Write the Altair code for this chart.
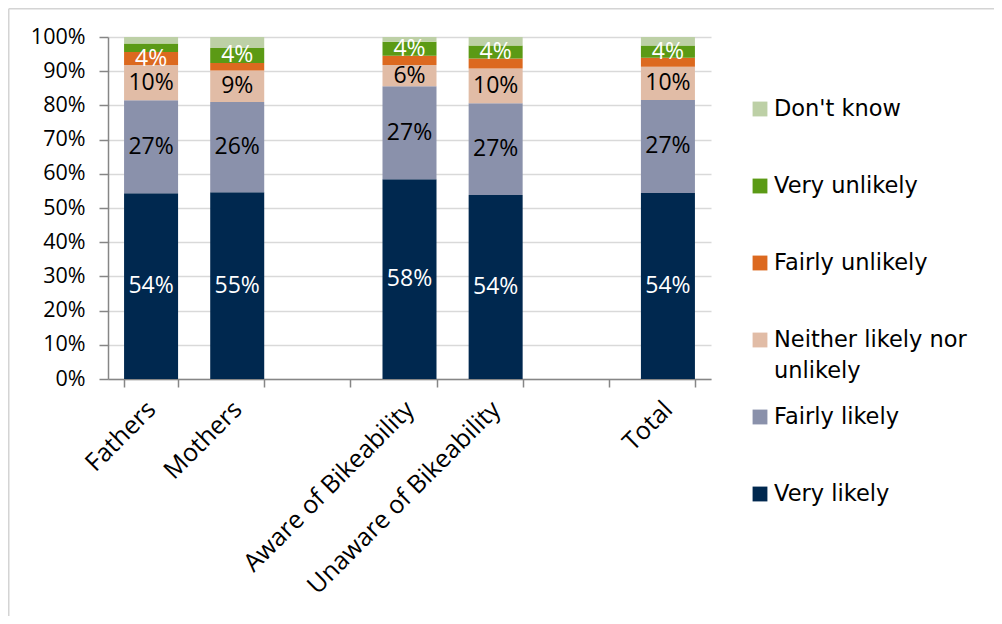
import altair as alt
import pandas as pd

# ---- data ----
groups = ["Fathers", "Mothers", " ", "Aware of Bikeability", "Unaware of Bikeability", "  ", "Total"]
cats = ["Very likely", "Fairly likely", "Neither likely nor unlikely",
        "Fairly unlikely", "Very unlikely", "Don't know"]
colors = ["#00284f", "#8a91ab", "#e1bca6", "#dc691f", "#5b9a15", "#bdd0a6"]

fathers = [54.3, 27.2, 10.3, 3.8, 2.5, 1.9]
mothers = [54.6, 26.4, 9.2, 2.2, 4.4, 3.2]
aware = [58.4, 27.2, 6.2, 2.7, 4.1, 1.4]
unaware = [53.8, 26.8, 10.2, 2.9, 3.8, 2.5]
total = [54.4, 27.2, 9.7, 2.6, 3.6, 2.5]

series = {
    "Fathers": fathers,
    "Mothers": mothers,
    "Aware of Bikeability": aware,
    "Unaware of Bikeability": unaware,
    "Total": total,
}

legend_order = ["Don't know", "Very unlikely", "Fairly unlikely",
                "Neither likely nor unlikely", "Fairly likely", "Very likely"]
legend_line1 = ["Don't know", "Very unlikely", "Fairly unlikely",
                "Neither likely nor", "Fairly likely", "Very likely"]
legend_line2 = ["", "", "", "unlikely", "", ""]

y_ticks = [0, 10, 20, 30, 40, 50, 60, 70, 80, 90, 100]

rows = []
for g, vals in series.items():
    for i, (c, v) in enumerate(zip(cats, vals)):
        rows.append({"group": g, "cat": c, "value": v, "order": i})
df = pd.DataFrame(rows)

leg = pd.DataFrame({"cat": legend_order, "line1": legend_line1, "line2": legend_line2})

W, H = 603, 342
PAD_L, PAD_T = 100, 29
PAD_R = 986 - PAD_L - W
PAD_B = 608 - PAD_T - H

color_scale = alt.Scale(domain=cats, range=colors)
x_scale = alt.Scale(domain=groups, paddingInner=0.373, paddingOuter=0.1865)
x_axis = alt.Axis(
    title=None, labelAngle=-45, labelAlign="right", labelBaseline="middle",
    labelFont="Open Sans", labelFontSize=25, labelColor="#000000",
    labelPadding=18, labelLimit=0, labelOverlap=False,
    tickBand="extent", tickSize=8, tickColor="#868686",
    tickWidth=1.5, domainColor="#868686", domainWidth=1.5, grid=False,
)
y_scale = alt.Scale(domain=[0, 100], nice=False)
y_axis = alt.Axis(
    title=None, values=y_ticks, labelExpr="datum.value + '%'",
    labelFont="Open Sans", labelFontSize=21.5, labelColor="#000000",
    labelOverlap=False, labelFlush=False,
    labelPadding=14, tickSize=9, tickColor="#868686", tickWidth=1.5,
    domainColor="#868686", domainWidth=1.5,
    grid=True, gridColor="#d9d9d9", gridWidth=1.5,
)

base = alt.Chart(df).transform_stack(
    stack="value", groupby=["group"], sort=[alt.SortField("order")], as_=["y0", "y1"]
)

bars = base.mark_bar().encode(
    x=alt.X("group:N", sort=groups, scale=x_scale, axis=x_axis),
    y=alt.Y("y0:Q", scale=y_scale, axis=y_axis),
    y2="y1:Q",
    color=alt.Color("cat:N", scale=color_scale, legend=None),
)

labels = base.transform_calculate(
    mid="(datum.y0 + datum.y1) / 2",
    lbl="round(datum.value) + '%'",
).transform_filter(
    "round(datum.value) >= 4 && datum.cat != \"Don't know\""
).mark_text(font="Open Sans", fontSize=23, baseline="middle", align="center").encode(
    x=alt.X("group:N", sort=groups, scale=x_scale, axis=x_axis),
    y=alt.Y("mid:Q", scale=y_scale, axis=y_axis),
    text="lbl:N",
    color=alt.condition(
        "datum.cat == 'Fairly likely' || datum.cat == 'Neither likely nor unlikely'",
        alt.value("#000000"), alt.value("#ffffff")),
)

main = alt.layer(bars, labels)

leg_y = alt.Y("cat:N", sort=legend_order,
              scale=alt.Scale(type="point", domain=legend_order, range=[72, 457], padding=0),
              axis=None)
leg_base = alt.Chart(leg)
squares = leg_base.mark_square(size=220, opacity=1).encode(
    x=alt.value(652), y=leg_y,
    color=alt.Color("cat:N", scale=color_scale, legend=None),
)
ltext1 = leg_base.mark_text(align="left", baseline="middle", font="DejaVu Sans",
                            fontSize=22.5, color="#000000").encode(
    x=alt.value(666), y=leg_y, text="line1:N")
ltext2 = leg_base.mark_text(align="left", baseline="middle", font="DejaVu Sans",
                            fontSize=22.5, color="#000000", dy=31).encode(
    x=alt.value(666), y=leg_y, text="line2:N")
legend_layer = alt.layer(squares, ltext1, ltext2)

frame_data = alt.Data(values=[{"k": 1}])
frame_left = alt.Chart(frame_data).mark_rule(color="#d4d4d4", strokeWidth=1.5).encode(
    x=alt.value(-PAD_L + 0.75), y=alt.value(-PAD_T + 0.75), y2=alt.value(H + PAD_B + 10))
frame_top = alt.Chart(frame_data).mark_rule(color="#d4d4d4", strokeWidth=1.5).encode(
    x=alt.value(-PAD_L + 0.75), x2=alt.value(W + PAD_R + 10), y=alt.value(-PAD_T + 0.75))

chart = alt.layer(main, legend_layer, frame_left, frame_top).resolve_scale(
    y="independent"
).properties(
    width=W, height=H,
    autosize=alt.AutoSizeParams(type="none"),
    padding={"left": PAD_L, "top": PAD_T, "right": PAD_R, "bottom": PAD_B},
    background="#ffffff",
).configure_view(stroke=None)

chart.save("out.html", embed_options={"renderer": "svg", "actions": False})
